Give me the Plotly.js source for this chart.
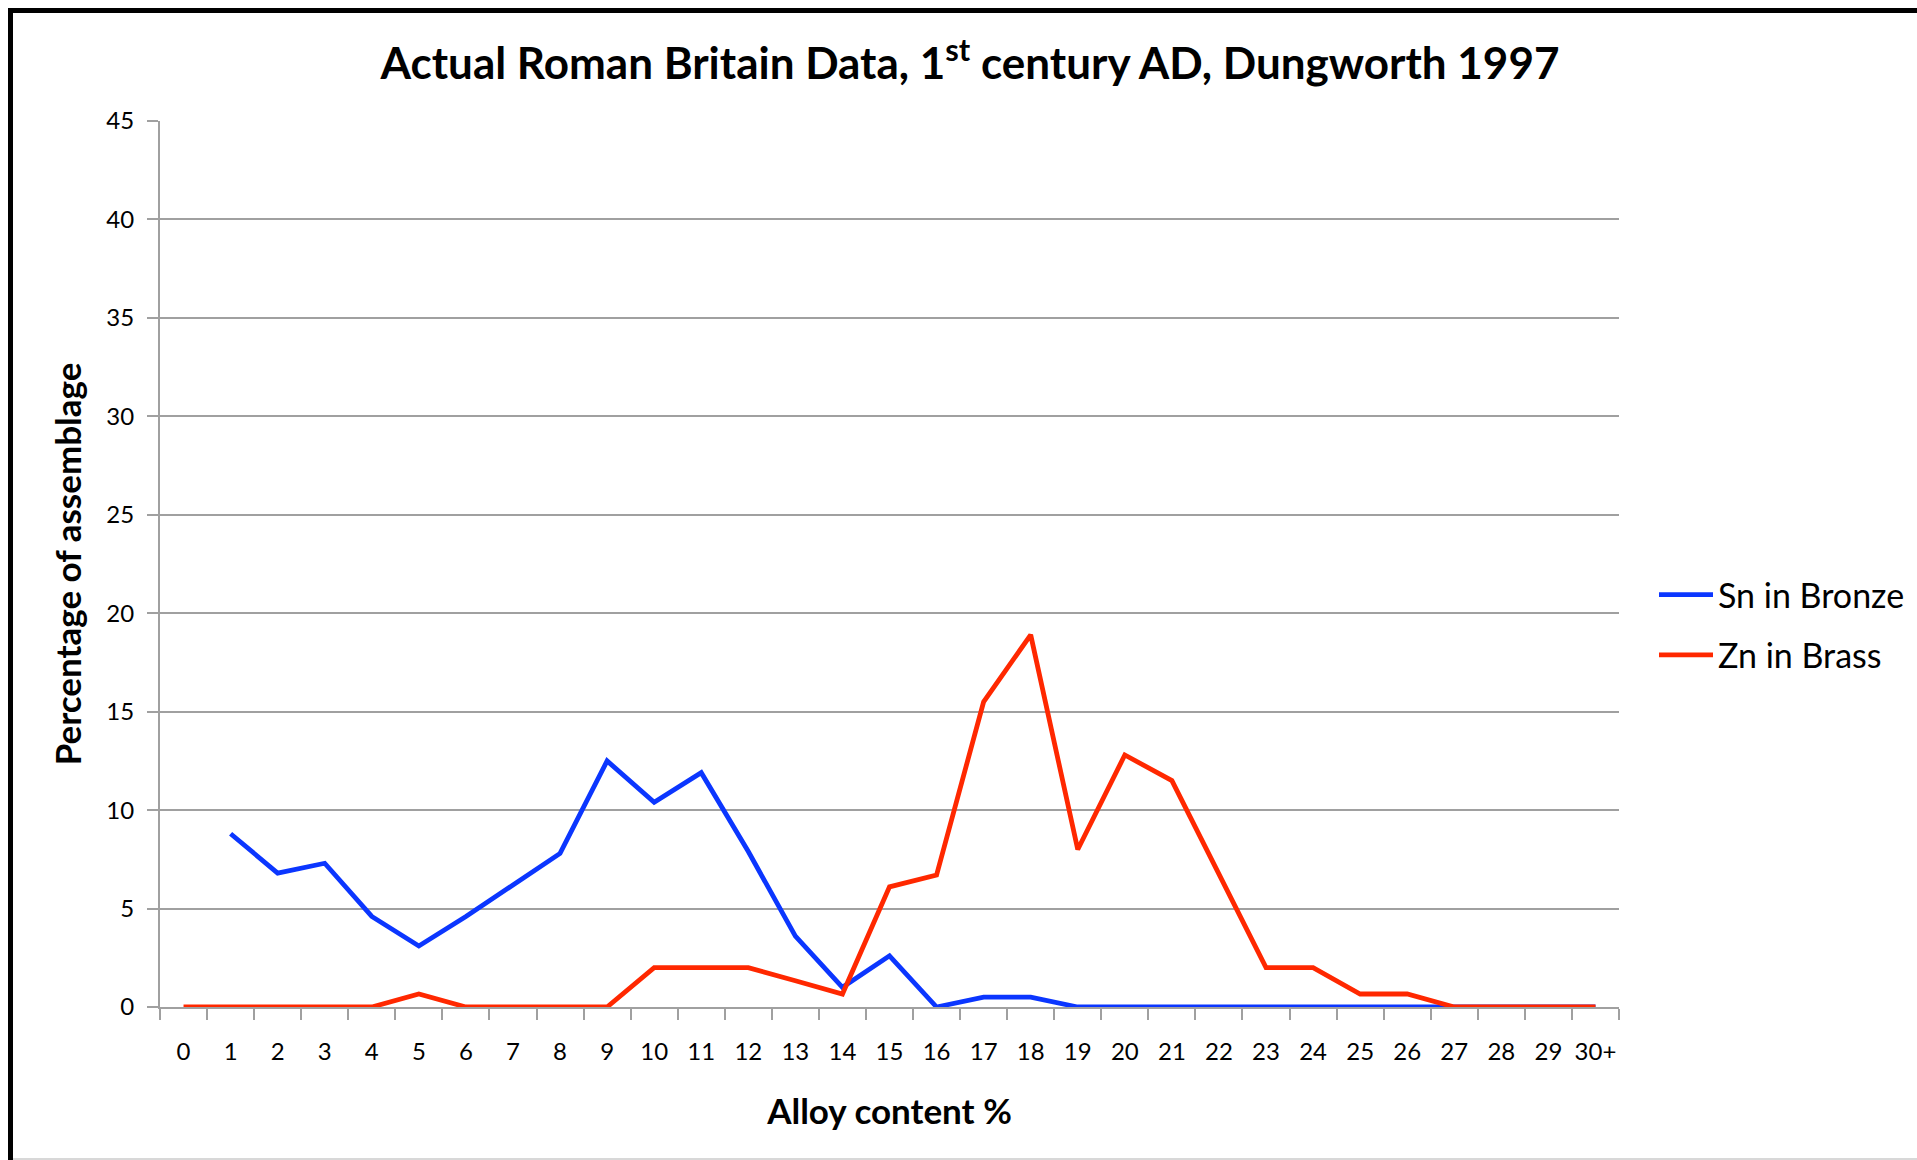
<!DOCTYPE html>
<html>
<head>
<meta charset="utf-8">
<script src="https://cdn.plot.ly/plotly-3.0.1.min.js"></script>
<style>
  html, body { margin: 0; padding: 0; background: #ffffff; }
  #chart { width: 1917px; height: 1160px; }
</style>
</head>
<body>
<div id="chart"></div>
<script>
// Category labels (alloy content %)
const categories = ["0","1","2","3","4","5","6","7","8","9","10","11","12","13","14","15",
  "16","17","18","19","20","21","22","23","24","25","26","27","28","29","30+"];

// Sn in Bronze (starts at 1%)
const snCategories = categories.slice(1);
const snInBronze = [8.8, 6.8, 7.3, 4.6, 3.1, 4.6, 6.2, 7.8, 12.5, 10.4, 11.9, 7.9, 3.6, 1.0, 2.6,
  0, 0.5, 0.5, 0, 0, 0, 0, 0, 0, 0, 0, 0, 0, 0, 0];

// Zn in Brass
const znInBrass = [0, 0, 0, 0, 0, 0.66, 0, 0, 0, 0, 2.0, 2.0, 2.0, 1.33, 0.66, 6.1,
  6.7, 15.5, 18.9, 8.0, 12.8, 11.5, 6.8, 2.0, 2.0, 0.66, 0.66, 0, 0, 0, 0];

const seriesNames = ["Sn in Bronze", "Zn in Brass"];
const yTicks = [0, 5, 10, 15, 20, 25, 30, 35, 40, 45];

const FONT = "Lato, 'Open Sans', sans-serif";
const GRID = "#a0a0a0";

const W = 1917, H = 1160;
const M = { l: 160, r: 298, t: 121, b: 153 };
const pw = W - M.l - M.r, ph = H - M.t - M.b;
const px = v => (v - M.l) / pw;
const py = v => (H - M.b - v) / ph;

const traces = [
  {
    type: "scatter", mode: "lines", name: seriesNames[0],
    x: snCategories, y: snInBronze,
    line: { color: "#0b36ff", width: 4.8 },
    legendgroup: "a"
  },
  {
    type: "scatter", mode: "lines", name: seriesNames[1],
    x: categories, y: znInBrass,
    line: { color: "#ff2800", width: 4.8 },
    legendgroup: "b"
  }
];

const layout = {
  width: W, height: H,
  margin: M,
  paper_bgcolor: "#ffffff",
  plot_bgcolor: "#ffffff",
  font: { family: FONT, color: "#000000", size: 24 },
  title: {
    text: "<b>Actual Roman Britain Data, 1<sup>st</sup> century AD, Dungworth 1997</b>",
    font: { family: FONT, size: 44, color: "#000000" },
    x: 970 / W, xref: "container", xanchor: "center",
    y: 1 - 64 / H, yref: "container", yanchor: "middle"
  },
  xaxis: {
    type: "category",
    categoryorder: "array", categoryarray: categories,
    range: [-0.5, categories.length - 0.5],
    tickson: "boundaries",
    ticks: "outside", ticklen: 11, tickwidth: 2, tickcolor: GRID,
    tickangle: 0,
    showline: true, linecolor: GRID, linewidth: 2,
    showgrid: false, zeroline: false,
    tickfont: { family: FONT, size: 24, color: "#000000" },
    ticklabelstandoff: 22,
    title: { text: "<b>Alloy content %</b>", font: { family: FONT, size: 35, color: "#000000" }, standoff: 36 },
    fixedrange: true
  },
  yaxis: {
    range: [0, 45],
    tickvals: yTicks,
    ticks: "outside", ticklen: 11, tickwidth: 2, tickcolor: GRID,
    showline: true, linecolor: GRID, linewidth: 2,
    showgrid: true, gridcolor: GRID, gridwidth: 2,
    zeroline: false,
    tickfont: { family: FONT, size: 24, color: "#000000" },
    ticklabelstandoff: 8,
    title: { text: "<b>Percentage of assemblage</b>", font: { family: FONT, size: 35, color: "#000000" }, standoff: 14 },
    fixedrange: true
  },
  showlegend: true,
  legend: {
    xref: "container", yref: "container",
    x: 1654 / W, xanchor: "left",
    y: 1 - 566 / H, yanchor: "top",
    font: { family: FONT, size: 34, color: "#000000" },
    traceorder: "grouped",
    tracegroupgap: 13,
    itemwidth: 54,
    bgcolor: "rgba(0,0,0,0)",
    borderwidth: 0
  },
  shapes: [
    { type: "line", xref: "paper", yref: "paper", x0: px(8), x1: px(W + 5), y0: py(10.5), y1: py(10.5), line: { color: "#000000", width: 5 } },
    { type: "line", xref: "paper", yref: "paper", x0: px(10.5), x1: px(10.5), y0: py(8), y1: py(H + 5), line: { color: "#000000", width: 5 } },
    { type: "line", xref: "paper", yref: "paper", x0: px(13), x1: px(W + 5), y0: py(H - 1), y1: py(H - 1), line: { color: "#d8d8d8", width: 2 } }
  ]
};

Plotly.newPlot("chart", traces, layout, { staticPlot: true, displayModeBar: false });
</script>
</body>
</html>
